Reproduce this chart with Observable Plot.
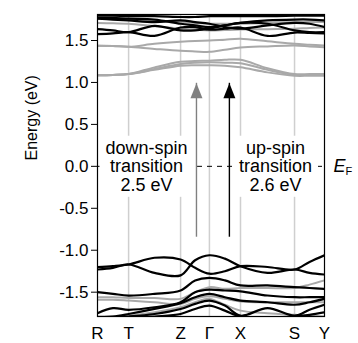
<!DOCTYPE html>
<html><head><meta charset="utf-8">
<script src="https://cdn.jsdelivr.net/npm/d3@7"></script>
<script src="https://cdn.jsdelivr.net/npm/@observablehq/plot@0.6"></script>
<style>html,body{margin:0;padding:0;background:#fff;}</style>
</head><body><div id="chart"></div>
<script>
// high-symmetry points along the k-path
const kLabels = ["R", "T", "Z", "Γ", "X", "S", "Y"];
const kPoints = [0, 0.137, 0.366, 0.493, 0.630, 0.868, 1.0];
// k positions at which band energies were read
const kSample = [0, 0.068, 0.137, 0.251, 0.366, 0.43, 0.493, 0.561, 0.630, 0.749, 0.868, 0.934, 1.0];
const yTicks = [-1.5, -1.0, -0.5, 0.0, 0.5, 1.0, 1.5];

// up-spin (black) bands, energies in eV at kSample
const up1 = [1.795, 1.795, 1.79, 1.79, 1.78, 1.78, 1.79, 1.79, 1.79, 1.79, 1.795, 1.795, 1.795];
const up2 = [1.77, 1.77, 1.76, 1.75, 1.70, 1.68, 1.66, 1.68, 1.71, 1.74, 1.75, 1.75, 1.74];
const up3 = [1.635, 1.62, 1.60, 1.675, 1.62, 1.62, 1.64, 1.68, 1.71, 1.70, 1.62, 1.60, 1.60];
const up4 = [1.575, 1.585, 1.60, 1.555, 1.655, 1.66, 1.63, 1.64, 1.655, 1.555, 1.595, 1.59, 1.585];
const up5 = [1.76, 1.75, 1.74, 1.72, 1.74, 1.72, 1.70, 1.66, 1.64, 1.68, 1.71, 1.70, 1.66];
const up6 = [-1.20, -1.19, -1.17, -1.09, -1.11, -1.21, -1.28, -1.25, -1.19, -1.20, -1.23, -1.14, -1.06];
const up7 = [-1.23, -1.21, -1.17, -1.27, -1.30, -1.12, -1.06, -1.10, -1.19, -1.27, -1.23, -1.27, -1.29];
const up8 = [-1.50, -1.52, -1.54, -1.52, -1.48, -1.36, -1.33, -1.36, -1.42, -1.42, -1.44, -1.45, -1.46];
const up9 = [-1.75, -1.69, -1.71, -1.68, -1.62, -1.50, -1.47, -1.48, -1.49, -1.54, -1.56, -1.56, -1.56];
const up10 = [-1.80, -1.79, -1.76, -1.70, -1.63, -1.56, -1.52, -1.56, -1.60, -1.62, -1.65, -1.62, -1.58];
const up11 = [-1.81, -1.80, -1.79, -1.76, -1.70, -1.64, -1.60, -1.66, -1.78, -1.69, -1.78, -1.71, -1.65];
const up12 = [-1.82, -1.82, -1.81, -1.79, -1.76, -1.70, -1.66, -1.72, -1.79, -1.80, -1.79, -1.77, -1.74];

// down-spin (gray) bands
const dn1 = [1.086, 1.09, 1.10, 1.15, 1.20, 1.205, 1.205, 1.20, 1.18, 1.12, 1.08, 1.08, 1.08];
const dn2 = [1.086, 1.09, 1.10, 1.16, 1.22, 1.235, 1.24, 1.235, 1.23, 1.15, 1.09, 1.09, 1.09];
const dn3 = [1.086, 1.09, 1.10, 1.18, 1.246, 1.255, 1.26, 1.27, 1.27, 1.17, 1.10, 1.10, 1.10];
const dn4 = [1.437, 1.435, 1.425, 1.40, 1.377, 1.37, 1.365, 1.39, 1.417, 1.43, 1.44, 1.43, 1.42];
const dn5 = [1.437, 1.435, 1.425, 1.46, 1.485, 1.495, 1.50, 1.51, 1.52, 1.49, 1.46, 1.45, 1.44];
const dn6 = [1.71, 1.705, 1.70, 1.67, 1.64, 1.63, 1.62, 1.625, 1.63, 1.635, 1.64, 1.65, 1.655];
const dn7 = [1.76, 1.755, 1.75, 1.73, 1.72, 1.71, 1.70, 1.70, 1.70, 1.71, 1.72, 1.72, 1.72];
const dn8 = [-1.56, -1.56, -1.57, -1.57, -1.58, -1.50, -1.44, -1.46, -1.45, -1.45, -1.45, -1.41, -1.36];
const dn9 = [-1.59, -1.59, -1.60, -1.62, -1.64, -1.58, -1.55, -1.58, -1.61, -1.62, -1.62, -1.62, -1.62];
const dn10 = [-1.79, -1.79, -1.78, -1.74, -1.68, -1.62, -1.58, -1.65, -1.72, -1.75, -1.77, -1.78, -1.79];

const upBands = [up1, up2, up3, up4, up5, up6, up7, up8, up9, up10, up11, up12];
const downBands = [dn1, dn2, dn3, dn4, dn5, dn6, dn7, dn8, dn9, dn10];

// transition arrows
const arrowK = [0.436, 0.581];
const arrowFrom = [-0.845, -0.845];
const arrowTo = [0.99, 0.99];
const arrowColor = ["#808080", "#000000"];

// annotations
const noteK = [0.216, 0.784];
const noteText = ["down-spin\ntransition\n2.5 eV", "up-spin\ntransition\n2.6 eV"];

const toRows = (bands, spin) => bands.flatMap((b, i) => b.map((E, j) => ({k: kSample[j], E, band: spin + i})));
const upRows = toRows(upBands, "up");
const downRows = toRows(downBands, "down");
const arrows = arrowK.map((k, i) => ({k, from: arrowFrom[i], to: arrowTo[i], color: arrowColor[i]}));
const notes = noteK.map((k, i) => ({k, E: 0, text: noteText[i]}));

const head = {draw(ctx) { ctx.moveTo(0, 0); ctx.lineTo(6, 15); ctx.lineTo(-6, 15); ctx.closePath(); }};

const plot = Plot.plot({
  width: 358, height: 343,
  marginLeft: 97, marginRight: 34, marginTop: 14, marginBottom: 27,
  x: {domain: [0, 1], axis: null},
  y: {domain: [-1.79, 1.81], axis: null},
  style: {fontFamily: "'Liberation Sans', Arial, sans-serif", background: "white", color: "black"},
  marks: [
    Plot.ruleX(kPoints.slice(1, -1), {stroke: "#cfcfcf", strokeWidth: 1.5}),
    Plot.line(downRows, {x: "k", y: "E", z: "band", stroke: "#a9a9a9", strokeWidth: 2, curve: "catmull-rom", clip: true}),
    Plot.line(upRows, {x: "k", y: "E", z: "band", stroke: "#000", strokeWidth: 2.2, curve: "catmull-rom", clip: true}),
    Plot.ruleY([0], {stroke: "#000", strokeWidth: 1, strokeDasharray: "5,5"}),
    Plot.text(notes, {x: "k", y: "E", text: "text", fontSize: 18, lineHeight: 1.03, lineAnchor: "middle", fill: "#000"}),
    Plot.ruleX(arrows, {x: "k", y1: "from", y2: "to", stroke: "color", strokeWidth: 1.4}),
    Plot.dot(arrows, {x: "k", y: "to", symbol: head, fill: "color", stroke: null}),
    Plot.frame({stroke: "#000", strokeWidth: 1.2}),
    Plot.axisY({ticks: yTicks, tickFormat: d => d.toFixed(1), tickSize: 6, tickPadding: 3, fontSize: 17, label: null}),
    Plot.axisX({ticks: kPoints, tickFormat: d => kLabels[kPoints.indexOf(d)], tickSize: 0, tickPadding: 10, fontSize: 17, label: null}),
    Plot.text(["Energy (eV)"], {frameAnchor: "left", dx: -66, dy: -5, rotate: -90, fontSize: 16, fill: "#000"}),
    Plot.text([{k: 1, E: 0}], {x: "k", y: "E", text: () => "E", dx: 9, textAnchor: "start", fontSize: 18, fontStyle: "italic", fill: "#000"}),
    Plot.text([{k: 1, E: 0}], {x: "k", y: "E", text: () => "F", dx: 21, dy: 5, textAnchor: "start", fontSize: 11, fill: "#000"})
  ]
});
document.getElementById("chart").append(plot);

// white boxes behind the annotation texts
for (const t of plot.querySelectorAll("text")) {
  if (!t.textContent.includes("transition")) continue;
  const b = t.getBBox();
  const r = document.createElementNS("http://www.w3.org/2000/svg", "rect");
  r.setAttribute("x", b.x - 6); r.setAttribute("y", b.y - 2);
  r.setAttribute("width", b.width + 12); r.setAttribute("height", b.height + 4);
  r.setAttribute("fill", "white");
  const tr = t.getAttribute("transform");
  if (tr) r.setAttribute("transform", tr);
  t.parentNode.insertBefore(r, t);
}
</script></body></html>
